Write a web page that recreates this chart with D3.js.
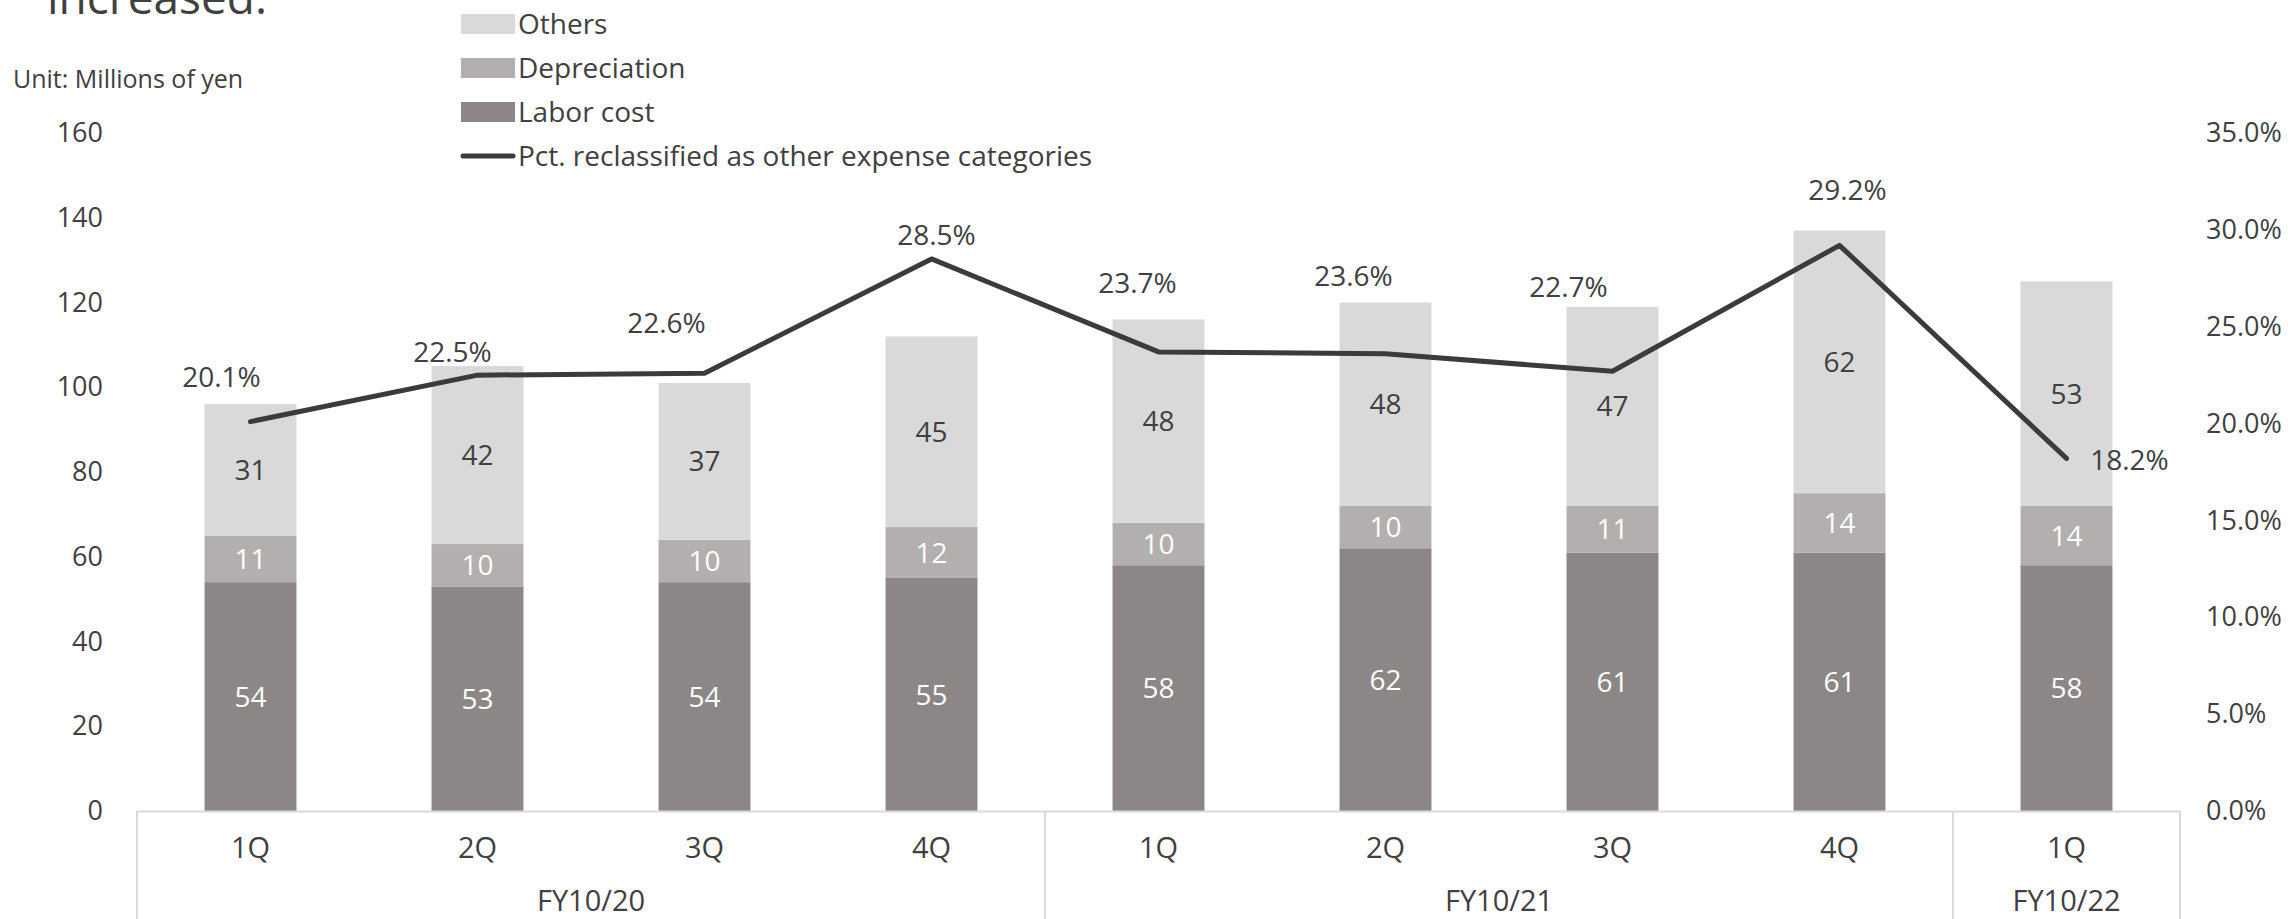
<!DOCTYPE html>
<html>
<head>
<meta charset="utf-8">
<script src="https://cdn.jsdelivr.net/npm/d3@7"></script>
<style>
  html, body { margin: 0; padding: 0; background: #fff; }
  svg { display: block; }
  text { font-family: "Open Sans", "Noto Sans", sans-serif; fill: #404040; }
</style>
</head>
<body>
<svg id="chart" width="2288" height="919"></svg>
<script>
// Quarterly cost breakdown (millions of yen) and reclassification share
const quarters = ["1Q", "2Q", "3Q", "4Q", "1Q", "2Q", "3Q", "4Q", "1Q"];
const fiscalYears = ["FY10/20", "FY10/21", "FY10/22"];
const yearOfQuarter = [0, 0, 0, 0, 1, 1, 1, 1, 2];
const laborCost = [54, 53, 54, 55, 58, 62, 61, 61, 58];
const depreciation = [11, 10, 10, 12, 10, 10, 11, 14, 14];
const others = [31, 42, 37, 45, 48, 48, 47, 62, 53];
const pctReclassified = [20.1, 22.5, 22.6, 28.5, 23.7, 23.6, 22.7, 29.2, 18.2];
const leftTicks = [0, 20, 40, 60, 80, 100, 120, 140, 160];
const rightTicks = [0, 5, 10, 15, 20, 25, 30, 35];

// Hand-placed percentage labels: (dx of text centre, dy of baseline) from each point
const pctLabelOffset = [[-29, -35], [-25, -13], [-38, -40], [5, -14], [-21, -59], [-32, -68], [-44, -74], [8, -45], [63, 12]];

const svg = d3.select("#chart");
const plotLeft = 137, plotRight = 2180, plotBottom = 811, plotTop = 133;

const idx = quarters.map((_, i) => i);
const x = d3.scaleBand().domain(idx).range([plotLeft, plotRight])
  .paddingInner(0.595).paddingOuter(0.2975);
const y = d3.scaleLinear().domain([0, 160]).range([plotBottom, plotTop]);
const yR = d3.scaleLinear().domain([0, 35]).range([plotBottom, plotTop]);
const cx = i => x(i) + x.bandwidth() / 2;

const seriesDefs = [
  { key: "labor", name: "Labor cost", values: laborCost, color: "#8c8686", labelColor: "#ffffff" },
  { key: "dep", name: "Depreciation", values: depreciation, color: "#b3afae", labelColor: "#ffffff" },
  { key: "others", name: "Others", values: others, color: "#d9d9d9", labelColor: "#404040" }
];

const rows = idx.map(i => ({ i, labor: laborCost[i], dep: depreciation[i], others: others[i] }));
const stacked = d3.stack().keys(seriesDefs.map(s => s.key))(rows);

// Title fragment at the top
svg.append("text").attr("x", 47).attr("y", 14)
  .style("font-size", "46px").text("increased.");

svg.append("text").attr("x", 13).attr("y", 88)
  .style("font-size", "25px").text("Unit: Millions of yen");

// Left axis
const gL = svg.append("g").attr("transform", `translate(103,0)`)
  .call(d3.axisLeft(y).tickValues(leftTicks).tickSize(0).tickPadding(0));
gL.select(".domain").remove();
gL.selectAll("text").style("font-size", "27px").attr("fill", "#404040");

// Right axis
const gR = svg.append("g").attr("transform", `translate(2206,0)`)
  .call(d3.axisRight(yR).tickValues(rightTicks).tickSize(0).tickPadding(0)
    .tickFormat(d => d.toFixed(1) + "%"));
gR.select(".domain").remove();
gR.selectAll("text").style("font-size", "27px").attr("fill", "#404040");

// Stacked bars
const layers = svg.append("g").selectAll("g").data(stacked).join("g")
  .attr("fill", (d, k) => seriesDefs[k].color);
layers.selectAll("rect").data(d => d).join("rect")
  .attr("x", d => x(d.data.i))
  .attr("width", x.bandwidth())
  .attr("y", d => y(d[1]))
  .attr("height", d => y(d[0]) - y(d[1]));

// Segment value labels
stacked.forEach((layer, k) => {
  svg.append("g").selectAll("text").data(layer).join("text")
    .attr("x", d => cx(d.data.i))
    .attr("y", d => y((d[0] + d[1]) / 2))
    .attr("dy", "0.36em")
    .attr("text-anchor", "middle")
    .style("font-size", "28px")
    .style("fill", seriesDefs[k].labelColor)
    .text(d => d.data[seriesDefs[k].key]);
});

// Category axis: baseline, group separators, quarter and year labels
const step = x.step();
const slotLeft = i => x(i) - step * x.paddingInner() / 2;
const axisG = svg.append("g");
axisG.append("line").attr("x1", plotLeft).attr("x2", plotRight)
  .attr("y1", plotBottom + 0.5).attr("y2", plotBottom + 0.5)
  .attr("stroke", "#d9d9d9").attr("stroke-width", 2);
const boundaries = [0];
yearOfQuarter.forEach((g, i) => { if (i > 0 && g !== yearOfQuarter[i - 1]) boundaries.push(i); });
boundaries.push(quarters.length);
axisG.selectAll("line.sep").data(boundaries).join("line").attr("class", "sep")
  .attr("x1", b => b === quarters.length ? plotRight : slotLeft(b))
  .attr("x2", b => b === quarters.length ? plotRight : slotLeft(b))
  .attr("y1", plotBottom).attr("y2", 919)
  .attr("stroke", "#d9d9d9").attr("stroke-width", 2);
axisG.selectAll("text.q").data(idx).join("text").attr("class", "q")
  .attr("x", i => cx(i)).attr("y", 858)
  .attr("text-anchor", "middle").style("font-size", "29px")
  .text(i => quarters[i]);
axisG.selectAll("text.fy").data(fiscalYears).join("text").attr("class", "fy")
  .attr("x", (d, g) => {
    const members = idx.filter(i => yearOfQuarter[i] === g);
    return (slotLeft(members[0]) + slotLeft(members[members.length - 1]) + step) / 2;
  })
  .attr("y", 911).attr("text-anchor", "middle").style("font-size", "29px")
  .text(d => d);

// Percentage line
const line = d3.line().x(i => cx(i)).y(i => yR(pctReclassified[i]));
svg.append("path").datum(idx).attr("d", line)
  .attr("fill", "none").attr("stroke", "#3b3b3b").attr("stroke-width", 5)
  .attr("stroke-linejoin", "round").attr("stroke-linecap", "round");

svg.append("g").selectAll("text").data(idx).join("text")
  .attr("x", i => cx(i) + pctLabelOffset[i][0])
  .attr("y", i => yR(pctReclassified[i]) + pctLabelOffset[i][1])
  .attr("text-anchor", "middle")
  .style("font-size", "28px")
  .text(i => pctReclassified[i].toFixed(1) + "%");

// Legend
const legendItems = [
  { name: "Others", color: "#d9d9d9", type: "rect" },
  { name: "Depreciation", color: "#b3afae", type: "rect" },
  { name: "Labor cost", color: "#8c8686", type: "rect" },
  { name: "Pct. reclassified as other expense categories", color: "#3b3b3b", type: "line" }
];
const lg = svg.append("g").selectAll("g").data(legendItems).join("g")
  .attr("transform", (d, k) => `translate(461,${24 + k * 44})`);
lg.filter(d => d.type === "rect").append("rect")
  .attr("x", 0).attr("y", -10).attr("width", 54).attr("height", 20).attr("fill", d => d.color);
lg.filter(d => d.type === "line").append("line")
  .attr("x1", 2).attr("x2", 52).attr("y1", 0).attr("y2", 0)
  .attr("stroke", d => d.color).attr("stroke-width", 5).attr("stroke-linecap", "round");
lg.append("text").attr("x", 57).attr("y", 0).attr("dy", "0.35em")
  .style("font-size", "28px").text(d => d.name);
</script>
</body>
</html>
